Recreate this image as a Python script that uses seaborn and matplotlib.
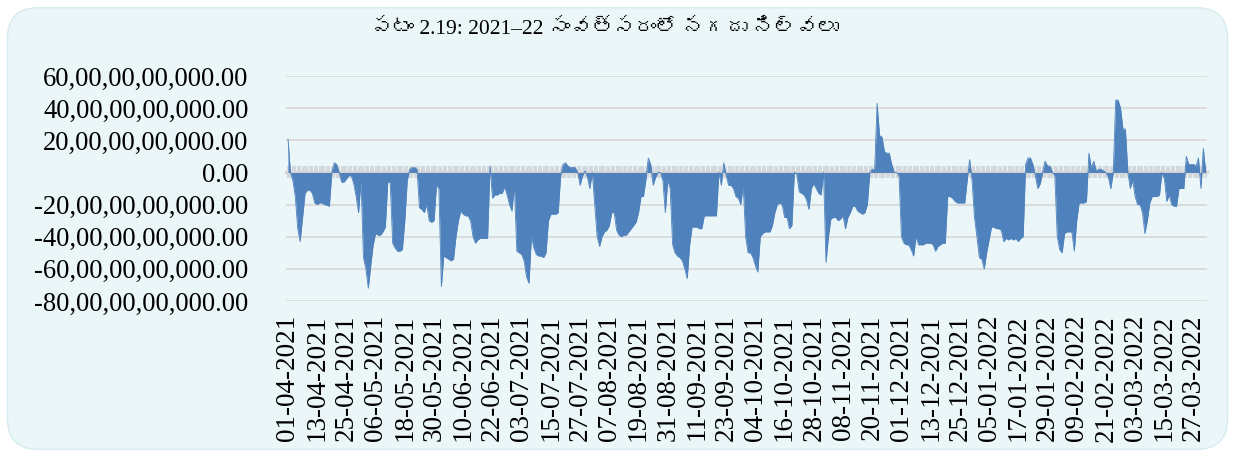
import numpy as np
import pandas as pd
import matplotlib
matplotlib.use("Agg")
import matplotlib.pyplot as plt
import seaborn as sns
from matplotlib import font_manager, ft2font
from matplotlib.patches import FancyBboxPatch
from matplotlib.ticker import FuncFormatter

# daily cash balance, in units of 1e9
cash_bn = [
    21, 0, -5, -15, -35, -43, -28, -13, -11, -11, -13, -19, -20, -19, -19, -20, -20.5, -21, 0, 6,
    5, 0, -6, -6, -4, -2, -2, -7, -15, -25, -5, -53, -60, -72, -58, -45, -38, -39, -39, -37,
    -34, -6, -6, -44, -47, -49, -49, -48, -30, -5, 2, 3, 3, 2, -22, -23, -25, -20, -30, -31,
    -30, -8, -10, -71, -52, -53, -54, -55, -54, -40, -30, -24, -26, -27, -27, -30, -40, -44, -42, -41,
    -41, -41, -41, 4, -16, -14, -14, -13, -13, -9, -14, -20, -24, -8, -49, -50, -51, -55, -65, -69,
    -40, -47, -51, -52, -52, -53, -50, -30, -26, -26, -26, -25, -2, 5, 6, 4, 3, 3, 3, 0,
    -8, -2, 1, -3, -10, 0, -20, -40, -46, -40, -37, -36, -33, -25, -25, -36, -39, -40, -39, -39,
    -37, -35, -33, -31, -25, -15, -15, -5, 9, 5, -8, -3, 0, 0, -5, -25, -5, -10, -45, -50,
    -52, -53, -55, -60, -66, -45, -34, -34, -34, -35, -35, -27, -27, -27, -27, -27, -27, 0, -8, 6,
    -2, -8, -8, -10, -15, -16, -20, -8, -40, -50, -50, -53, -58, -62, -40, -38, -37, -37, -37, -33,
    -25, -20, -19, -20, -28, -28, -35, -33, 0, -1, -12, -13, -14, -17, -23, -10, -7, -10, -13, -14,
    0, -56, -40, -29, -28, -28, -30, -29, -27, -35, -28, -25, -21, -21, -24, -25, -26, -25, -20, 0,
    2, 2, 43, 23, 22, 13, 12, 12, 5, 0, 0, -2, -40, -44, -45, -45, -48, -52, -40, -45,
    -45, -45, -44, -44, -44, -45, -49, -46, -45, -44, -44, -15, -15, -16, -18, -19, -19, -19, -19, -5,
    8, -5, -28, -40, -53, -54, -60, -50, -42, -34, -34, -35, -35, -36, -43, -41, -42, -41, -42, -41,
    -43, -41, -40, 5, 9, 9, 5, -2, -10, -7, 0, 7, 4, 4, 0, -2, -40, -48, -50, -38,
    -37, -37, -37, -49, -30, -19, -19, -19, -18, 12, 3, 7, 1, 2, 2, 1, 0, -3, -10, 0,
    45, 45, 40, 27, 27, 0, -10, -5, -15, -20, -20, -25, -38, -30, -19, -15, -15, -15, -14, 0,
    -4, -18, -14, -20, -21, -21, -10, -10, -10, 10, 5, 5, 5, 4, 9, -10, 15, 0,
]

date_labels = [
    "01-04-2021", "13-04-2021", "25-04-2021", "06-05-2021", "18-05-2021", "30-05-2021",
    "10-06-2021", "22-06-2021", "03-07-2021", "15-07-2021", "27-07-2021", "07-08-2021",
    "19-08-2021", "31-08-2021", "11-09-2021", "23-09-2021", "04-10-2021", "16-10-2021",
    "28-10-2021", "08-11-2021", "20-11-2021", "01-12-2021", "13-12-2021", "25-12-2021",
    "05-01-2022", "17-01-2022", "29-01-2022", "09-02-2022", "21-02-2022", "03-03-2022",
    "15-03-2022", "27-03-2022",
]
label_step = 12

y_ticks_bn = [60, 40, 20, 0, -20, -40, -60, -80]

title = "పటం 2.19: 2021–22 సంవత్సరంలో నగదు నిల్వలు"

df = pd.DataFrame({"pos": np.arange(len(cash_bn)), "cash": np.array(cash_bn) * 1e9})


def indian_fmt(v, pos=None):
    n = int(round(abs(v)))
    s = str(n)
    if len(s) > 3:
        head, tail = s[:-3], s[-3:]
        groups = []
        while len(head) > 2:
            groups.insert(0, head[-2:])
            head = head[:-2]
        if head:
            groups.insert(0, head)
        s = ",".join(groups + [tail])
    return ("-" if v < 0 else "") + s + ".00"


def find_telugu_font():
    for f in font_manager.fontManager.ttflist:
        try:
            cmap = ft2font.FT2Font(f.fname).get_charmap()
        except Exception:
            continue
        if 0x0C2A in cmap and 0x0C32 in cmap:
            return f.name
    return None


sns.set_theme(style="white")
plt.rcParams["font.family"] = ["Liberation Serif", "DejaVu Serif"]

blue = "#4F81BD"
bg = "#EAF6F8"
grid_c = "#D9D9D9"

fig = plt.figure(figsize=(12.35, 4.53), dpi=100)
fig.patch.set_facecolor("white")
panel = FancyBboxPatch((0.006, 0.008), 0.988, 0.975, boxstyle="round,pad=0,rounding_size=0.025",
                       transform=fig.transFigure, facecolor=bg, edgecolor="#D6ECF0",
                       linewidth=1, mutation_aspect=1235 / 453, zorder=-10)
fig.patches.append(panel)

ax = fig.add_axes([0.2316, 0.3355, 0.9773 - 0.2316, 0.8322 - 0.3355])
ax.set_facecolor("none")

ax.fill_between(df["pos"], 0, df["cash"], color=blue, linewidth=0, zorder=2)
sns.lineplot(data=df, x="pos", y="cash", ax=ax, color=blue, linewidth=0.6, zorder=2)

ymin, ymax = y_ticks_bn[-1] * 1e9, y_ticks_bn[0] * 1e9
ax.set_ylim(ymin, ymax)
ax.set_xlim(-0.8, len(cash_bn) - 0.5)
ax.set_yticks([t * 1e9 for t in y_ticks_bn])
ax.yaxis.set_major_formatter(FuncFormatter(indian_fmt))
for t in y_ticks_bn:
    if t != 0:
        ax.axhline(t * 1e9, color=grid_c, linewidth=1.3, zorder=1)

ax.set_xticks(np.arange(len(date_labels)) * label_step)
ax.set_xticklabels(date_labels, rotation=90)
ax.tick_params(axis="x", length=0, pad=10, labelsize=19.5, colors="black")
ax.tick_params(axis="y", length=0, pad=27, labelsize=19.2, colors="black")
ax.set_xlabel("")
ax.set_ylabel("")
for s in ax.spines.values():
    s.set_visible(False)

# category axis drawn across the zero line, with a tick for every day
zero_loc = (0 - ymin) / (ymax - ymin)
sec = ax.secondary_xaxis(zero_loc)
sec.set_xticks(np.arange(len(cash_bn)))
sec.tick_params(axis="x", direction="inout", length=8, width=1.2, color="#CFD3D9",
                labelbottom=False, labeltop=False)
for name, s in sec.spines.items():
    s.set_color("#D6D6D6")
    s.set_linewidth(2.5)

tel = find_telugu_font()
fam = ["Liberation Serif"] + ([tel] if tel else []) + ["DejaVu Sans"]
fig.text(0.49, 0.935, title, ha="center", va="center", fontsize=15.5, color="black", family=fam)

fig.savefig("out.png", dpi=100, facecolor=fig.get_facecolor())
plt.close(fig)
